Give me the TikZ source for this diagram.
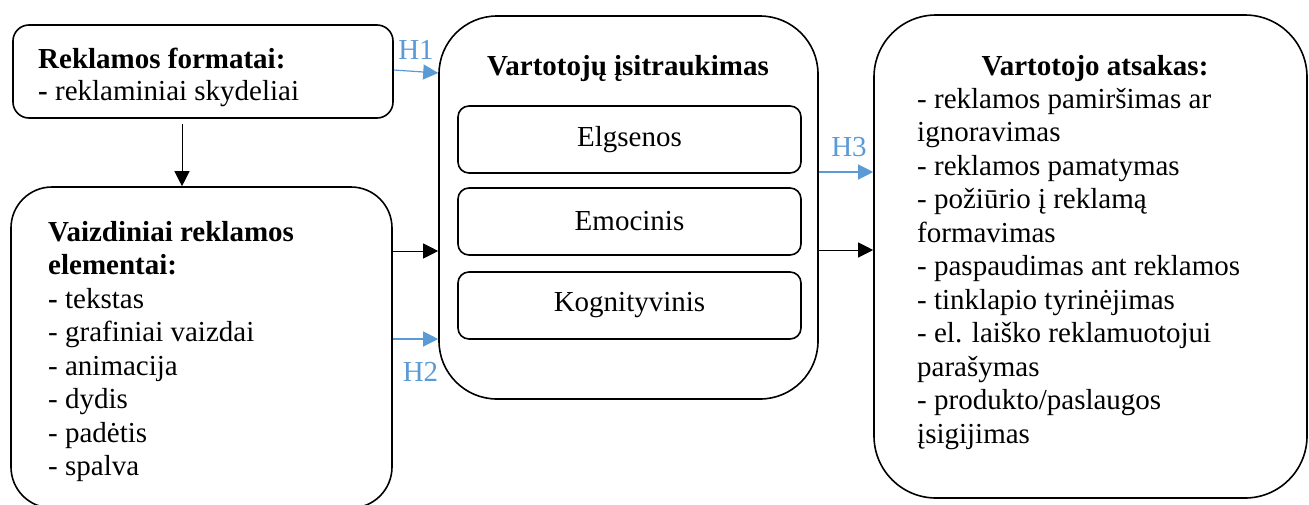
\documentclass[tikz,border=0pt]{standalone}
\usepackage{fontspec}
\setmainfont{Liberation Serif}
\usepackage{xcolor}
\usetikzlibrary{calc}
\usetikzlibrary{arrows.meta}
\definecolor{hblue}{HTML}{5B9BD5}
\tikzset{
  box/.style={draw, line width=1.6pt, rounded corners=#1, inner sep=0pt},
  txt/.style={anchor=base west, inner sep=0pt},
  arr/.style={line width=1pt, -{Triangle[length=15pt,width=15pt]}},
  harr/.style={arr, hblue, line width=1.2pt},
  hlab/.style={text=hblue, inner sep=0pt}
}

\begin{document}
\begin{tikzpicture}[x=1pt, y=-1pt, font=\fontsize{29}{33.5}\selectfont]
\useasboundingbox (0,0) rectangle (1309,504);

\node[box=16pt, minimum width=380pt, minimum height=93pt] (format) at (203,71.5) {};
\node[box=41pt, minimum width=381pt, minimum height=321pt] (vaizd) at (201.5,347.5) {};
\node[box=58pt, minimum width=379pt, minimum height=383pt] (itrauk) at (628.5,207.5) {};
\node[box=62pt, minimum width=433pt, minimum height=483pt] (atsak) at (1090.5,256.5) {};

\foreach \t/\y [count=\i] in {Elgsenos/139.5, Emocinis/221.5, Kognityvinis/305.5}
  \node[box=11pt, minimum width=343pt, minimum height=67pt] (lygis\i) at (629.5,\y) {\t};

% tekstai
\node[txt] (ftit) at (38,68) {\textbf{Reklamos formatai:}};
\node[txt] (fsar) at (38,100) {\textbf{-} reklaminiai skydeliai};

\foreach \t [count=\i] in {{\textbf{Vaizdiniai reklamos}}, {\textbf{elementai:}},
    {\textbf{-} tekstas}, - grafiniai vaizdai, - animacija, - dydis, - padėtis, - spalva}
  \node[txt] (vz\i) at (48,207.5+33.5*\i) {\t};

\node[anchor=base, inner sep=0pt] (ittit) at (628,75) {\textbf{Vartotojų įsitraukimas}};

\node[anchor=base, inner sep=0pt] (attit) at (1095,75) {\textbf{Vartotojo atsakas:}};
\foreach \t [count=\i] in {- reklamos pamiršimas ar, ignoravimas, - reklamos pamatymas,
    - požiūrio į reklamą, formavimas, - paspaudimas ant reklamos, - tinklapio tyrinėjimas,
    - el. laiško reklamuotojui, parašymas, - produkto/paslaugos, įsigijimas}
  \node[txt] (at\i) at (917,74.5+33.5*\i) {\t};

% rodykles
\draw[arr] ($(format.south)+(-21,5)$) -- ($(vaizd.north)+(-19.5,0)$);
\draw[harr] (format.east |- 0,70) -- node[hlab, above=11pt] (h1) {H1} (itrauk.west |- 0,73);
\draw[arr] (vaizd.east |- 0,251) -- (itrauk.west |- 0,251);
\draw[harr] (vaizd.east |- 0,339) -- node[hlab, below=23pt, xshift=5pt] (h2) {H2} (itrauk.west |- 0,339);
\draw[harr] (itrauk.east |- 0,172) -- node[hlab, above=15pt, xshift=3pt] (h3) {H3} (atsak.west |- 0,172);
\draw[arr] (itrauk.east |- 0,250) -- (atsak.west |- 0,250);
\end{tikzpicture}
\end{document}
